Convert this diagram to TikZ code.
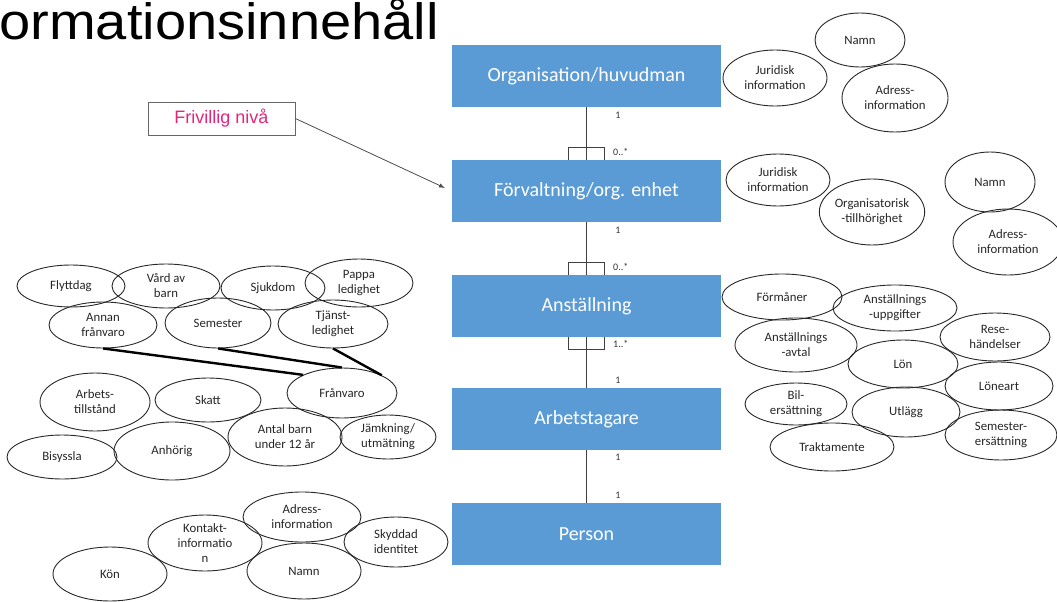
\documentclass[tikz,border=0pt]{standalone}
\usepackage{fontspec}
\setmainfont{Carlito}
\newfontfamily\arialfont{Liberation Sans}
\usetikzlibrary{shapes.geometric,arrows.meta}
\definecolor{entityblue}{RGB}{91,155,213}
\definecolor{notepink}{RGB}{228,38,122}
\definecolor{outline}{RGB}{40,40,40}
\tikzset{
  entity/.style={rectangle, fill=entityblue, minimum width=269pt, minimum height=62pt,
    inner sep=0pt, text=white, font=\fontsize{20}{24}\selectfont},
  attr/.style={ellipse, draw=outline, line width=0.9pt, inner sep=0pt, align=center,
    font=\fontsize{12.8}{15}\selectfont, text=black!85},
  mult/.style={font=\fontsize{10}{11}\selectfont, inner sep=0pt, text=black!80},
  link/.style={draw=black!75, line width=0.9pt},
  bracket/.style={draw=black!75, line width=0.9pt},
  strong/.style={draw=black, line width=2.4pt},
}
\newcommand{\attrnode}[6]{\node[attr, minimum width=#4pt, minimum height=#5pt] (#1) at (#2,#3) {#6};}
\begin{document}
\begin{tikzpicture}[x=1pt,y=-1pt]
\useasboundingbox (0,0) rectangle (1057,602);

% heading, cut at the left edge of the slide
\node[anchor=base west, inner sep=0pt, xscale=1.1, transform shape,
  font=\arialfont\fontsize{51}{56}\selectfont] (title) at (-1,40) {ormationsinnehåll};

% entities
\node[entity] (org)  at (586.5,76)  {Organisation/huvudman};
\node[entity] (forv) at (586.5,191) {Förvaltning/org. enhet};
\node[entity] (anst) at (586.5,306) {Anställning};
\node[entity] (arb)  at (586.5,419) {Arbetstagare};
\node[entity] (pers) at (586.5,534) {Person};

% relations between entities
\draw[link] (org.south) -- (forv.north);
\draw[link] (forv.south) -- (anst.north);
\draw[link] (anst.south) -- (arb.north);
\draw[link] (arb.south) -- (pers.north);

% many-side brackets
\draw[bracket] ([xshift=-18pt]forv.north) -- ++(0,-12) -- ++(36,0) -- ++(0,12);
\draw[bracket] ([xshift=-18pt]anst.north) -- ++(0,-12) -- ++(36,0) -- ++(0,12);
\draw[bracket] ([xshift=-18pt]anst.south) -- ++(0,12) -- ++(36,0) -- ++(0,-12);

% multiplicities
\node[mult] (m1) at (618,115) {1};
\node[mult, anchor=west] (m2) at (613,152) {0..*};
\node[mult] (m3) at (618,230) {1};
\node[mult, anchor=west] (m4) at (613,267) {0..*};
\node[mult, anchor=west] (m5) at (613,344) {1..*};
\node[mult] (m6) at (618,380) {1};
\node[mult] (m7) at (618,457) {1};
\node[mult] (m8) at (618,495) {1};

% optional level note
\node[rectangle, draw=black!60, line width=0.8pt, minimum width=147pt, minimum height=33pt,
  inner sep=0pt, text=notepink, font=\arialfont\fontsize{18}{20}\selectfont] (friv) at (221.5,118.5) {Frivillig nivå};
\coordinate (frivtip) at (445,188);
\draw[draw=black!70, line width=0.8pt, -{Latex[length=6pt,width=4.5pt]}] (friv.east) -- (frivtip);

% Organisation attributes
\attrnode{oNamn}{860}{40}{90}{54}{Namn}
\attrnode{oJur}{775}{78}{104}{56}{Juridisk\\information}
\attrnode{oAdr}{895}{98}{106}{68}{Adress-\\information}

% Förvaltning attributes
\attrnode{fJur}{778}{180}{104}{52}{Juridisk\\information}
\attrnode{fNamn}{990}{182}{90}{60}{Namn}
\attrnode{fOrg}{872}{212}{104}{66}{Organisatorisk\\-tillhörighet}
\attrnode{fAdr}{1008}{242}{110}{66}{Adress-\\information}

% Anställning attributes
\attrnode{aForm}{782}{297}{120}{46}{Förmåner}
\attrnode{aUpp}{895}{308}{124}{46}{Anställnings\\-uppgifter}
\attrnode{aAvt}{796}{345}{122}{54}{Anställnings\\-avtal}
\attrnode{aRes}{995}{337}{110}{48}{Rese-\\händelser}
\attrnode{aLon}{903}{364}{110}{48}{Lön}
\attrnode{aLart}{999}{386}{108}{48}{Löneart}
\attrnode{aBil}{796}{404}{102}{42}{Bil-\\ersättning}
\attrnode{aUtl}{906}{412}{108}{50}{Utlägg}
\attrnode{aSem}{1001}{435}{112}{50}{Semester-\\ersättning}
\attrnode{aTrak}{832}{447}{124}{48}{Traktamente}

% absence types
\attrnode{bFlytt}{71}{286}{108}{42}{Flyttdag}
\attrnode{bVard}{166}{286}{108}{44}{Vård av\\barn}
\attrnode{bSjuk}{273}{288}{104}{44}{Sjukdom}
\attrnode{bPappa}{359}{283}{108}{48}{Pappa\\ledighet}
\attrnode{bAnnan}{103}{325}{108}{46}{Annan\\frånvaro}
\attrnode{bSem}{218}{323}{106}{50}{Semester}
\attrnode{bTjl}{333}{324}{110}{48}{Tjänst-\\ledighet}
\attrnode{bFran}{342}{393}{110}{50}{Frånvaro}

\draw[strong] (bAnnan.south) -- (bFran.155);
\draw[strong] (bSem.south) -- (bFran.north);
\draw[strong] (bTjl.south) -- (bFran.24);

% Arbetstagare attributes
\attrnode{wArb}{95}{402}{110}{58}{Arbets-\\tillstånd}
\attrnode{wSkatt}{208}{400}{106}{44}{Skatt}
\attrnode{wBis}{62}{457}{110}{44}{Bisyssla}
\attrnode{wAnh}{172}{451}{116}{58}{Anhörig}
\attrnode{wBarn}{285}{437}{114}{58}{Antal barn\\under 12 år}
\attrnode{wJamk}{388}{437}{96}{44}{Jämkning/\\utmätning}

% Person attributes
\attrnode{pAdr}{302}{517}{118}{50}{Adress-\\information}
\attrnode{pKont}{205}{543}{114}{56}{Kontakt-\\informatio\\n}
\attrnode{pSkydd}{396}{542}{104}{50}{Skyddad\\identitet}
\attrnode{pKon}{110}{574}{114}{54}{Kön}
\attrnode{pNamn}{304}{571}{114}{56}{Namn}

\end{tikzpicture}
\end{document}
